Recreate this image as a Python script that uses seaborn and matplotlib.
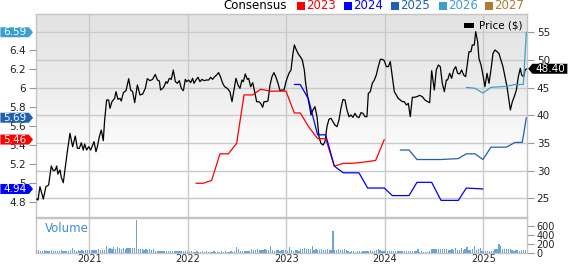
import numpy as np
import pandas as pd
import matplotlib
matplotlib.use("Agg")
import matplotlib.pyplot as plt
import seaborn as sns
from matplotlib.path import Path
from matplotlib.patches import Rectangle
from matplotlib.colors import LinearSegmentedColormap

# ---------------- data ----------------
price_t = [2020.466, 2020.479, 2020.499, 2020.533, 2020.560, 2020.587, 2020.614, 2020.635, 2020.655, 2020.669,
           2020.682, 2020.703, 2020.716, 2020.736, 2020.757, 2020.777, 2020.804, 2020.831, 2020.858, 2020.879,
           2020.899, 2020.919, 2020.939, 2020.953, 2020.973, 2020.994, 2021.014, 2021.034, 2021.048, 2021.068,
           2021.082, 2021.102, 2021.122, 2021.142, 2021.156, 2021.176, 2021.197, 2021.210, 2021.230, 2021.257,
           2021.271, 2021.291, 2021.312, 2021.325, 2021.346, 2021.373, 2021.400, 2021.420, 2021.440, 2021.461,
           2021.488, 2021.515, 2021.542, 2021.569, 2021.589, 2021.616, 2021.643, 2021.670, 2021.691, 2021.711,
           2021.724, 2021.745, 2021.758,
           2021.779, 2021.792, 2021.813, 2021.833, 2021.853, 2021.874, 2021.894, 2021.914, 2021.934, 2021.955,
           2021.975, 2021.989, 2022.009, 2022.029, 2022.049, 2022.063, 2022.083, 2022.104, 2022.124, 2022.144,
           2022.164, 2022.192, 2022.212, 2022.232, 2022.252, 2022.273, 2022.293, 2022.313, 2022.334, 2022.354,
           2022.374, 2022.401, 2022.428, 2022.449, 2022.469, 2022.489, 2022.510, 2022.530, 2022.550, 2022.564,
           2022.584, 2022.604, 2022.618, 2022.638, 2022.659, 2022.679, 2022.699, 2022.720, 2022.740, 2022.760,
           2022.774, 2022.794, 2022.814, 2022.835, 2022.855, 2022.875, 2022.896, 2022.916, 2022.936, 2022.956,
           2022.977, 2022.997,
           2023.027, 2023.048, 2023.068, 2023.082, 2023.102, 2023.122, 2023.142, 2023.163, 2023.183, 2023.197,
           2023.217, 2023.237, 2023.251, 2023.271, 2023.291, 2023.312, 2023.332, 2023.352, 2023.373, 2023.393,
           2023.413, 2023.433, 2023.454, 2023.474, 2023.494, 2023.515, 2023.535, 2023.555, 2023.576, 2023.596,
           2023.616, 2023.637, 2023.657, 2023.677, 2023.697, 2023.718, 2023.738, 2023.758, 2023.779, 2023.799,
           2023.819, 2023.833, 2023.853, 2023.873, 2023.894, 2023.914, 2023.934, 2023.955, 2023.975, 2023.995,
           2024.016, 2024.036, 2024.056, 2024.077, 2024.097, 2024.117, 2024.137, 2024.158, 2024.178, 2024.198,
           2024.219, 2024.239,
           2024.259, 2024.280, 2024.300, 2024.327, 2024.354, 2024.381, 2024.408, 2024.435, 2024.456, 2024.476,
           2024.503, 2024.523, 2024.544, 2024.564, 2024.584, 2024.605, 2024.625, 2024.638, 2024.659, 2024.679,
           2024.699, 2024.720, 2024.740, 2024.760, 2024.780, 2024.801, 2024.821, 2024.841, 2024.855, 2024.875,
           2024.889, 2024.909, 2024.923, 2024.943, 2024.956, 2024.977, 2024.997, 2025.017, 2025.038, 2025.058,
           2025.078, 2025.099, 2025.119, 2025.139, 2025.159, 2025.180, 2025.200, 2025.220, 2025.241, 2025.261,
           2025.275, 2025.295, 2025.315, 2025.336, 2025.356, 2025.376, 2025.390, 2025.410, 2025.425, 2025.440]
price = [24.85, 24.67, 27.08, 24.85, 27.08, 27.38, 30.82, 29.97, 30.10, 30.82,
         29.37, 30.10, 28.77, 27.80, 30.70, 33.41, 36.73, 34.31, 36.24, 34.01,
         34.01, 35.04, 33.71, 34.80, 33.71, 34.31, 33.71, 34.62, 35.22, 33.41,
         34.31, 36.12, 37.33, 35.40, 39.14, 42.75, 42.75, 41.25, 42.45, 43.05,
         44.26, 42.87, 43.05, 42.57, 44.08, 44.44, 46.61, 44.56, 44.26, 42.27,
         45.47, 43.66, 43.84, 44.86, 46.61, 46.25, 46.49, 47.39, 46.37, 46.19,
         44.56, 44.86, 45.16,
         46.07, 45.77, 46.67, 46.49, 48.18, 46.07, 45.77, 46.25, 44.86, 44.44,
         46.49, 46.07, 46.37, 45.89, 46.67, 45.77, 46.37, 46.85, 46.07, 46.49,
         46.25, 46.37, 46.37, 46.85, 46.49, 46.97, 47.27, 47.70, 46.85, 45.77,
         45.16, 44.86, 44.26, 42.45, 44.56, 46.67, 45.47, 44.86, 46.37, 46.07,
         47.46, 46.49, 46.67, 45.16, 45.89, 44.26, 42.45, 42.45, 42.15, 41.43,
         42.45, 42.45, 42.57, 45.47, 46.97, 47.70, 46.85, 45.77, 44.44, 44.56,
         44.56, 46.07,
         47.58, 48.18, 51.19, 52.70, 51.80, 51.07, 50.59, 49.99, 48.18, 45.77,
         43.36, 41.55, 40.04, 40.95, 41.55, 39.74, 36.12, 34.92, 34.62, 35.22,
         37.93, 39.26, 39.44, 38.84, 38.23, 37.93, 39.14, 41.25, 42.87, 42.75,
         40.95, 39.74, 40.04, 39.62, 40.34, 39.74, 39.56, 40.46, 40.34, 39.74,
         39.74, 43.96, 44.26, 45.77, 46.37, 47.27, 48.78, 50.11, 50.11, 49.87,
         48.78, 48.78, 49.69, 46.97, 44.26, 43.66, 43.05, 42.75, 42.45, 42.45,
         41.85, 42.15,
         39.74, 43.24, 43.24, 43.36, 43.60, 43.36, 42.75, 42.45, 42.27, 48.06,
         44.56, 48.18, 49.08, 48.78, 45.77, 44.26, 46.37, 46.37, 47.58, 46.67,
         48.18, 48.78, 47.58, 47.46, 48.18, 47.27, 46.97, 49.69, 51.49, 51.49,
         52.70, 52.70, 55.11, 53.30, 50.29, 49.08, 47.27, 45.16, 47.58, 45.77,
         48.18, 51.19, 51.80, 51.49, 51.19, 49.99, 48.78, 46.97, 45.16, 42.75,
         40.95, 42.45, 43.36, 44.56, 46.97, 48.48, 47.27, 46.97, 48.18, 48.40]

c2023_t = [2022.083, 2022.158, 2022.242, 2022.327, 2022.412, 2022.496, 2022.571, 2022.659, 2022.740, 2022.835,
           2022.936, 2022.997, 2023.082, 2023.142, 2023.224, 2023.318, 2023.400, 2023.488, 2023.579, 2023.664,
           2023.765, 2023.907, 2023.995]
c2023 = [5.00, 5.00, 5.03, 5.31, 5.31, 5.42, 5.93, 5.93, 5.99, 5.97,
         5.97, 5.97, 5.74, 5.74, 5.60, 5.47, 5.47, 5.18, 5.21, 5.21,
         5.22, 5.24, 5.46]
c2024_t = [2023.082, 2023.142, 2023.224, 2023.318, 2023.400, 2023.488, 2023.579, 2023.738, 2023.826, 2023.995,
           2024.077, 2024.246, 2024.327, 2024.476, 2024.571, 2024.747, 2024.828, 2024.997]
c2024 = [6.04, 6.04, 5.89, 5.51, 5.51, 5.18, 5.11, 5.11, 4.95, 4.95,
         4.87, 4.87, 5.01, 5.01, 4.82, 4.82, 4.95, 4.94]
c2025_t = [2024.158, 2024.246, 2024.327, 2024.476, 2024.571, 2024.747, 2024.828, 2024.916, 2024.997, 2025.078,
           2025.234, 2025.322, 2025.396, 2025.437]
c2025 = [5.35, 5.35, 5.25, 5.25, 5.25, 5.26, 5.31, 5.31, 5.25, 5.38,
         5.38, 5.43, 5.43, 5.69]
c2026_t = [2024.828, 2024.916, 2024.997, 2025.078, 2025.234, 2025.322, 2025.407, 2025.437]
c2026 = [6.01, 6.00, 5.95, 6.01, 6.02, 6.04, 6.04, 6.59]

volume_start = "2020-06-19"
volume = [55, 60, 50, 55, 65, 50, 45, 55, 60, 50, 55, 45, 50, 60, 55, 50, 45, 55, 60,
          110,
          60, 55, 65, 50, 60, 55, 60, 65,
          70, 65, 75, 60, 70, 80, 65, 70, 75,
          150,
          90, 110, 95, 130, 100, 130, 110, 95, 120, 100, 115, 110, 120, 115, 120,
          740,
          85, 80, 90, 75, 80, 70, 85, 75, 80,
          45, 50, 40, 45, 55, 40, 45, 50, 40, 45, 50, 45, 40, 55, 45, 40, 50, 45,
          30, 35, 25, 30, 40, 30, 25, 35, 30, 45, 30, 25, 30, 35, 30, 25, 30, 40, 30, 35, 25, 30, 35, 30, 40,
          130, 90,
          45, 50, 40, 45, 50, 45,
          100,
          75, 70, 80, 65, 75, 70, 80, 75, 70,
          150,
          60, 55, 65, 60, 55, 60, 65, 60, 55,
          130,
          60, 55, 65, 60, 55,
          90, 85, 110, 95, 90, 100,
          150,
          75, 80, 70, 75, 80, 70, 75, 85, 75, 70,
          480,
          70, 75, 90, 65, 70, 85, 65,
          35, 30, 40, 35, 30, 35, 40, 30, 35, 40, 35,
          55, 60, 50, 55, 65,
          100,
          60, 55, 50, 60, 55,
          40, 35, 45, 40, 35, 40, 45, 35, 40, 40, 35, 45, 40, 35, 40,
          90,
          30, 35, 30, 25, 30, 35,
          85, 90, 80, 100, 95, 85, 90, 80, 85,
          75, 70, 80, 75, 120, 70, 75, 105, 70, 80, 135, 75, 70, 80, 150, 75, 80, 110,
          45, 50, 40, 45, 50, 45, 40,
          95, 100, 207, 150, 100, 90, 95, 85, 90,
          60, 55, 65, 60, 55, 60, 65, 60]

years = [2021, 2022, 2023, 2024, 2025]
price_ticks = [25, 30, 35, 40, 45, 50, 55]
eps_ticks = [4.8, 5.0, 5.2, 5.4, 5.6, 5.8, 6.0, 6.2, 6.4]
vol_ticks = [0, 200, 400, 600]
legend_years = ["2023", "2024", "2025", "2026", "2027"]
legend_colors = ["#ff0000", "#0000ff", "#1f61b0", "#3c9fd2", "#b27a2e"]
last_price = 48.40
eps_tags = [6.59, 5.69, 5.46, 4.94]
eps_tag_colors = ["#3c9fd2", "#1f61b0", "#ff0000", "#0000ff"]

# ---------------- styling ----------------
sns.set_theme(style="white")
plt.rcParams["font.family"] = ["DejaVu Sans"]

W, H = 568, 264
fig = plt.figure(figsize=(W / 100, H / 100), dpi=100)
L, R = 36, 527
ax = fig.add_axes([L / W, 1 - 216.8 / H, (R - L) / W, (216.8 - 14) / H])
axv = fig.add_axes([L / W, 1 - 253.0 / H, (R - L) / W, (253.0 - 218) / H])

xlim = (2020.459, 2025.444)
grid_c = "#c9c9c9"
spine_c = "#c4c4c4"
tick_c = "#999999"
lab_c = "#222222"

# gradient background
cmap = LinearSegmentedColormap.from_list("bg", [(0, "#e3e3e3"), (0.35, "#ececec"), (0.72, "#ffffff"), (1, "#ffffff")])
ax.imshow(np.linspace(0, 1, 256).reshape(-1, 1), cmap=cmap, extent=[0, 1, 0, 1],
          transform=ax.transAxes, aspect="auto", zorder=-5)

# price (right axis) on base axes
sns.lineplot(x=price_t, y=price, ax=ax, color="black", lw=0.9, estimator=None, sort=False, zorder=3)
ax.set_xlim(*xlim)
ax.set_ylim(21.64, 58.3)
ax.set_axisbelow(True)
ax.grid(True, color=grid_c, lw=1.0)
ax.set_xticks(years)
ax.set_yticks(price_ticks)
ax.set_xlabel("")
ax.set_ylabel("")
for s in ax.spines.values():
    s.set_color(spine_c)
    s.set_linewidth(1.0)

# consensus EPS (left axis)
axe = ax.twinx()
for t, v, c in [(c2023_t, c2023, legend_colors[0]), (c2024_t, c2024, legend_colors[1]),
                (c2025_t, c2025, legend_colors[2]), (c2026_t, c2026, legend_colors[3])]:
    sns.lineplot(x=t, y=v, ax=axe, color=c, lw=0.9, estimator=None, sort=False)
axe.set_xlim(*xlim)
axe.set_ylim(4.647, 6.782)
axe.set_yticks(eps_ticks)
axe.set_yticklabels([f"{v:g}" for v in eps_ticks])
axe.set_xlabel("")
axe.set_ylabel("")
for s in axe.spines.values():
    s.set_visible(False)

# put ticks on the right sides (twinx resets them)
ax.yaxis.set_ticks_position("right")
ax.yaxis.set_label_position("right")
axe.yaxis.set_ticks_position("left")
axe.yaxis.set_label_position("left")
ax.tick_params(axis="x", length=0, labelbottom=False)
ax.tick_params(axis="y", left=False, labelleft=False, right=True, labelright=True, length=5, width=0.8,
               color=tick_c, labelsize=7.5, labelcolor=lab_c, pad=2)
axe.tick_params(axis="y", left=True, labelleft=True, right=False, labelright=False, length=5, width=0.8,
                color=tick_c, labelsize=7.5, labelcolor=lab_c, pad=2)
axe.tick_params(axis="x", length=0, labelbottom=False)


def tag_right(x0, y0, width, height, mutation_size):
    padx = 0.25 * mutation_size
    x0, x1 = x0 - padx, x0 + width + padx
    y1 = y0 + height
    tip = 0.42 * (y1 - y0)
    ym = (y0 + y1) / 2
    return Path([(x0, y0), (x1, y0), (x1 + tip, ym), (x1, y1), (x0, y1), (x0, y0)], closed=True)


def tag_left(x0, y0, width, height, mutation_size):
    padx = 0.25 * mutation_size
    x0, x1 = x0 - padx, x0 + width + padx
    y1 = y0 + height
    tip = 0.42 * (y1 - y0)
    ym = (y0 + y1) / 2
    return Path([(x1, y0), (x1, y1), (x0, y1), (x0 - tip, ym), (x0, y0), (x1, y0)], closed=True)


for v, c in zip(eps_tags, eps_tag_colors):
    axe.annotate(f"{v:.2f}", xy=(3 / W, v), xycoords=("figure fraction", "data"),
                 ha="left", va="center", fontsize=7.5, color="white", zorder=20,
                 annotation_clip=False,
                 bbox=dict(boxstyle=tag_right, fc=c, ec="none"))

axe.annotate(f"{last_price:.2f}", xy=(535 / W, last_price), xycoords=("figure fraction", ax.transData),
             ha="left", va="center", fontsize=7.5, color="white", zorder=20, annotation_clip=False,
             bbox=dict(boxstyle=tag_left, fc="black", ec="none"))

# volume panel
vol_dates = pd.date_range(volume_start, periods=len(volume), freq="7D")
vol_t = vol_dates.year + (vol_dates.dayofyear - 1) / 365.25
axv.bar(vol_t, volume, width=0.013, color="#6aa6da", lw=0, zorder=3)
axv.set_xlim(*xlim)
axv.set_ylim(0, 780)
axv.set_axisbelow(True)
axv.grid(True, axis="x", color=grid_c, lw=1.0)
axv.set_xticks(years)
axv.set_xticklabels([str(y) for y in years])
axv.set_yticks(vol_ticks)
axv.yaxis.set_ticks_position("right")
axv.tick_params(axis="x", length=0, labelsize=7, labelcolor=lab_c, pad=0.5)
axv.tick_params(axis="y", left=False, labelleft=False, right=True, labelright=True, length=5, width=0.8,
                color=tick_c, labelsize=7, labelcolor=lab_c, pad=2)
for s in axv.spines.values():
    s.set_color(spine_c)
    s.set_linewidth(1.0)
axv.text(0.018, 0.69, "Volume", transform=axv.transAxes, color="#3b8fd3", fontsize=8.5,
         va="center", ha="left")

# top legend
fig.text(223 / W, 1 - 5.5 / H, "Consensus", fontsize=8.5, color="black", va="center", ha="left")
sq_x = [297, 344, 391, 439, 485]
for x, lab, c in zip(sq_x, legend_years, legend_colors):
    fig.patches.append(Rectangle((x / W, 1 - 9.5 / H), 7.5 / W, 7.5 / H, transform=fig.transFigure,
                                 fc=c, ec="none"))
    fig.text((x + 9) / W, 1 - 5.5 / H, lab, fontsize=8.5, color=c, va="center", ha="left")

# price legend
axe.add_patch(Rectangle((464 / W, 1 - 28 / H), 10 / W, 4.5 / H, transform=fig.transFigure,
                        fc="black", ec="none", zorder=10, clip_on=False))
fig.text(479 / W, 1 - 26 / H, "Price ($)", fontsize=7.5, color="black", va="center", ha="left")

fig.savefig("out.png", dpi=100)
